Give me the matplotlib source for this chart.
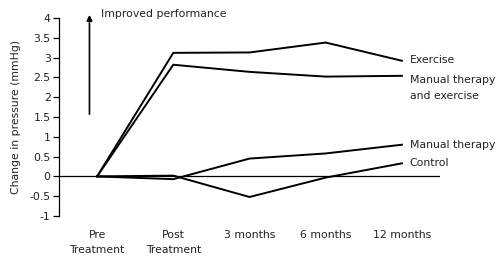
import matplotlib.pyplot as plt

# ========== data ==========
times = ["Pre\nTreatment", "Post\nTreatment", "3 months", "6 months", "12 months"]
exercise = [0, 3.12, 3.13, 3.38, 2.92]
mt_exercise = [0, 2.82, 2.64, 2.52, 2.54]
manual = [0, -0.07, 0.45, 0.58, 0.80]
control = [0, 0.02, -0.52, -0.03, 0.33]

series = [
    ("Exercise", exercise, 0.02),
    ("Manual therapy\nand exercise", mt_exercise, -0.3),
    ("Manual therapy", manual, 0.0),
    ("Control", control, 0.0),
]

plt.rcParams["font.family"] = ["DejaVu Sans"]
plt.rcParams["font.size"] = 8
txt_col = "#222222"

fig = plt.figure(figsize=(5.02, 2.59), dpi=100)
ax = fig.add_axes([0.1175, 0.166, 0.759, 0.7645])

x = list(range(len(times)))
for name, vals, dy in series:
    ax.plot(x, vals, color="black", lw=1.4, solid_joinstyle="miter")
    ax.text(x[-1] + 0.1, vals[-1] + dy, name, va="center", ha="left",
            fontsize=7.8, color=txt_col, linespacing=1.75)

ax.axhline(0, color="black", lw=0.9)

ax.set_xlim(-0.5, 4.5)
ax.set_ylim(-1, 4)
ax.set_yticks([-1, -0.5, 0, 0.5, 1, 1.5, 2, 2.5, 3, 3.5, 4])
ax.set_yticklabels(["-1", "-0.5", "0", "0.5", "1", "1.5", "2", "2.5", "3", "3.5", "4"])
ax.set_xticks(x)
ax.set_xticklabels(times, linespacing=1.6, va="top")
ax.tick_params(axis="x", length=0, pad=10, labelsize=7.8, labelcolor=txt_col)
ax.tick_params(axis="y", length=4, width=0.9, pad=2, labelsize=7.8, labelcolor=txt_col)

for s in ["top", "right", "bottom"]:
    ax.spines[s].set_visible(False)
ax.spines["left"].set_linewidth(0.9)

ax.set_ylabel("Change in pressure (mmHg)", fontsize=7.8, color=txt_col, labelpad=6)

ax.annotate("", xy=(-0.1, 4.15), xytext=(-0.1, 1.5),
            arrowprops=dict(arrowstyle="-|>", color="black", lw=1.2,
                            mutation_scale=8),
            annotation_clip=False)
ax.text(0.05, 4.1, "Improved performance", fontsize=7.8, va="center", ha="left",
        color=txt_col, clip_on=False)

plt.savefig("out.png", dpi=100)
